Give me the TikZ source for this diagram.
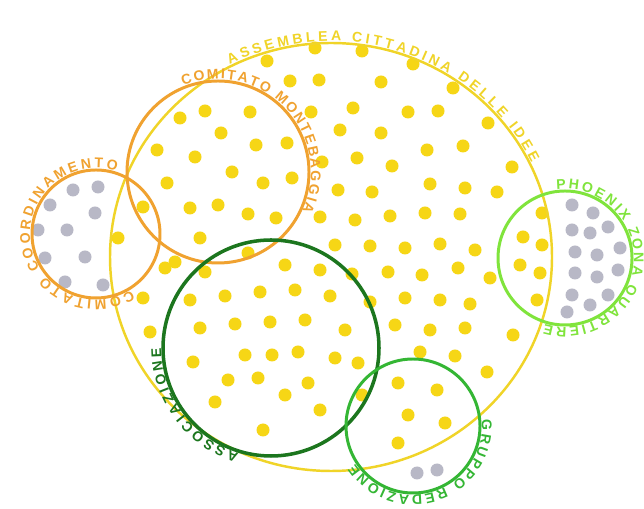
\documentclass[tikz,border=0pt]{standalone}
\usepackage{fontspec}
\setsansfont{Liberation Sans}
\usepackage{xcolor}
\usepackage{tikz}
\usetikzlibrary{decorations.text}
\definecolor{ideaYellow}{RGB}{246,214,22}
\definecolor{ringYellow}{RGB}{240,212,40}
\definecolor{ringOrange}{RGB}{240,162,48}
\definecolor{ringDark}{RGB}{28,118,30}
\definecolor{ringGreen}{RGB}{52,182,52}
\definecolor{ringLight}{RGB}{128,228,60}
\definecolor{dotGrey}{RGB}{184,184,198}

\begin{document}
\begin{tikzpicture}[x=0.02cm, y=0.02cm,
  ydot/.style={fill=ideaYellow},
  gdot/.style={fill=dotGrey},
  ring/.style={line width=1.7pt},
  ringtext/.style 2 args={decorate, decoration={text along path,
    text={|\sffamily\bfseries\fontsize{8}{9}\selectfont|#2}, text color=#1,
    text align=fit to path}}]
\fill[white] (0,0) rectangle (644,509);

\coordinate (assemblea) at (331,509-257);
\coordinate (montebaggia) at (218,509-172);
\coordinate (coordinamento) at (96,509-234);
\coordinate (associazione) at (271,509-348);
\coordinate (redazione) at (413,509-426);
\coordinate (phoenix) at (565,509-258);

% members
\foreach \px/\py in {315/48,362/51,267/61,413/64,290/81,319/80,381/82,453/88,
  205/111,250/112,311/112,353/108,408/112,438/111,488/123,
  180/118,221/133,256/145,287/143,340/130,381/133,427/150,463/146,
  157/150,195/157,232/172,263/183,292/178,167/183,143/207,118/238,165/268,143/298,
  322/162,357/158,392/166,512/167,
  338/190,372/192,430/184,465/188,497/192,
  190/208,218/205,248/214,276/218,320/217,355/220,390/216,425/213,460/214,
  200/238,175/262,335/245,370/246,405/248,440/244,475/250,
  248/253,285/265,205/272,320/270,352/274,388/272,422/275,458/268,490/278,
  190/300,225/296,260/292,295/290,330/296,370/302,405/298,440/300,470/304,
  150/332,200/328,235/324,270/322,305/320,345/330,395/325,430/330,465/328,
  193/362,245/355,272/355,298/352,335/358,420/352,455/356,
  228/380,258/378,308/383,285/395,215/402,320/410,263/430,
  358/363,398/383,437/390,487/372,408/415,445/423,398/443,362/395,
  542/213,523/237,542/245,520/265,540/273,537/300,513/335}
  \fill[ydot] (\px,509-\py) circle[radius=6.5];
\foreach \px/\py in {73/190,98/187,50/205,95/213,38/230,67/230,45/258,85/257,65/282,103/285,
  572/205,593/213,572/230,590/233,608/227,575/252,597/255,620/248,575/273,597/277,
  618/270,572/295,590/305,608/295,567/312,417/473,437/470}
  \fill[gdot] (\px,509-\py) circle[radius=6.5];

% groups
\draw[ring, ringYellow, line width=1.4pt] (assemblea) ellipse[x radius=221, y radius=214];
\draw[ring, ringOrange] (montebaggia) circle[radius=91];
\draw[ring, ringOrange] (coordinamento) circle[radius=64];
\draw[ring, ringDark, line width=2pt] (associazione) circle[radius=108];
\draw[ring, ringGreen] (redazione) circle[radius=67];
\draw[ring, ringLight] (phoenix) circle[radius=67];

% names
\path[ringtext={ringYellow}{ASSEMBLEA CITTADINA DELLE IDEE}]
  (assemblea) ++(117:223 and 216) arc[start angle=117, end angle=26, x radius=223, y radius=216];
\path[ringtext={ringOrange}{COMITATO MONTEBAGGIA}]
  (montebaggia) ++(112:93) arc[start angle=112, end angle=-25, radius=93];
\path[ringtext={ringOrange}{COMITATO COORDINAMENTO}]
  (coordinamento) ++(302:66) arc[start angle=302, end angle=72, radius=66];
\path[ringtext={ringDark}{ASSOCIAZIONE}]
  (associazione) ++(253:110) arc[start angle=253, end angle=180, radius=110];
\path[ringtext={ringGreen}{GRUPPO REDAZIONE}]
  (redazione) ++(5:69) arc[start angle=5, end angle=-147, radius=69];
\path[ringtext={ringLight}{PHOENIX ZONA QUARTIERE}]
  (phoenix) ++(97:69) arc[start angle=97, end angle=-107, radius=69];
\end{tikzpicture}
\end{document}
